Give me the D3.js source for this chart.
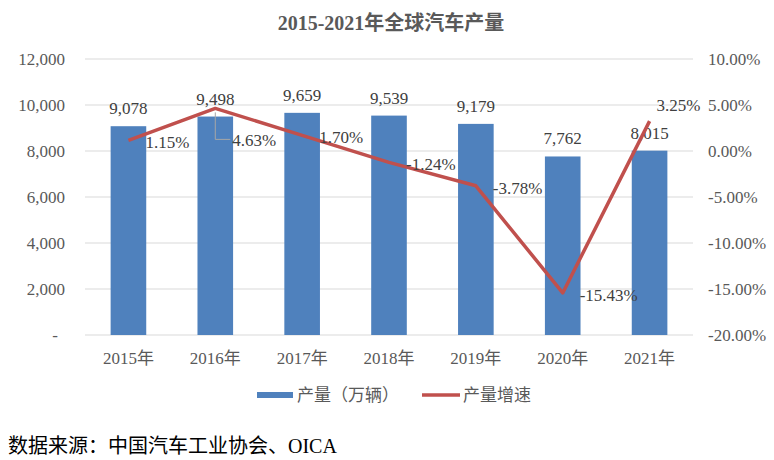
<!DOCTYPE html>
<html lang="zh">
<head>
<meta charset="UTF-8">
<title>2015-2021年全球汽车产量</title>
<style>
  body { margin: 0; background: #fff; }
  svg text { font-family: "Liberation Serif", "Times New Roman", "Noto Sans CJK SC", serif; }
</style>
</head>
<body>
<svg></svg>
<script src="https://cdn.jsdelivr.net/npm/d3@7/dist/d3.min.js"></script>
<script>
// 数据
var years = ["2015年", "2016年", "2017年", "2018年", "2019年", "2020年", "2021年"];
var output = [9078, 9498, 9659, 9539, 9179, 7762, 8015];          // 产量（万辆）
var growth = [1.15, 4.63, 1.70, -1.24, -3.78, -15.43, 3.25];      // 产量增速 %
var leftTicks = [0, 2000, 4000, 6000, 8000, 10000, 12000];
var rightTicks = [-20, -15, -10, -5, 0, 5, 10];

var width = 774, height = 460;
var plotL = 85, plotR = 693, plotT = 59, plotB = 335;

var svg = d3.select("svg").attr("width", width).attr("height", height);

var x = d3.scaleBand().domain(years).range([plotL, plotR]).padding(0);
var yL = d3.scaleLinear().domain([0, 12000]).range([plotB, plotT]);
var yR = d3.scaleLinear().domain([-20, 10]).range([plotB, plotT]);

// 用普通连字符做负号
var locale = d3.formatLocale({ decimal: ".", thousands: ",", grouping: [3], currency: ["", ""], minus: "-" });
var fmt = locale.format(",");
var pct = d => locale.format(".2f")(d) + "%";

// 标题
svg.append("text")
  .attr("x", 391).attr("y", 30)
  .attr("text-anchor", "middle")
  .attr("font-size", "20px").attr("font-weight", "bold")
  .attr("fill", "#595959")
  .text("2015-2021年全球汽车产量");

// 网格线
svg.append("g").selectAll("line")
  .data(leftTicks)
  .join("line")
  .attr("x1", plotL).attr("x2", plotR)
  .attr("y1", d => yL(d)).attr("y2", d => yL(d))
  .attr("stroke", "#d9d9d9").attr("stroke-width", 1);

// 左轴
var axL = svg.append("g")
  .attr("transform", `translate(${plotL - 20},0)`)
  .call(d3.axisLeft(yL).tickValues(leftTicks).tickSize(0).tickPadding(0)
    .tickFormat(d => d === 0 ? "-" : fmt(d)));
axL.select(".domain").remove();
axL.selectAll("text")
  .attr("font-size", "17px").attr("fill", "#595959")
  .attr("font-family", "Liberation Serif, serif")
  .attr("dx", d => d === 0 ? -7 : 0);

// 右轴
var axR = svg.append("g")
  .attr("transform", `translate(${plotR + 15},0)`)
  .call(d3.axisRight(yR).tickValues(rightTicks).tickSize(0).tickPadding(0)
    .tickFormat(pct));
axR.select(".domain").remove();
axR.selectAll("text")
  .attr("font-size", "17px").attr("fill", "#595959")
  .attr("font-family", "Liberation Serif, serif");

// 柱子
var barW = x.bandwidth() * 0.41;
svg.append("g").selectAll("rect")
  .data(output)
  .join("rect")
  .attr("x", (d, i) => x(years[i]) + x.bandwidth() / 2 - barW / 2)
  .attr("y", d => yL(d))
  .attr("width", barW)
  .attr("height", d => plotB - yL(d))
  .attr("fill", "#4f81bd");

// 柱子标签
svg.append("g").selectAll("text")
  .data(output)
  .join("text")
  .attr("x", (d, i) => x(years[i]) + x.bandwidth() / 2)
  .attr("y", d => yL(d) - 12)
  .attr("text-anchor", "middle")
  .attr("font-size", "17px").attr("fill", "#404040")
  .text(d => fmt(d));

// X 轴
var axX = svg.append("g")
  .attr("transform", `translate(0,${plotB})`)
  .call(d3.axisBottom(x).tickSize(0).tickPadding(0));
axX.select(".domain").remove();
axX.selectAll("text")
  .attr("font-size", "17px").attr("fill", "#595959")
  .attr("font-family", "Liberation Serif, Noto Sans CJK SC, serif")
  .attr("dy", "29px");

// 增速折线
var cx = (d, i) => x(years[i]) + x.bandwidth() / 2;
var line = d3.line().x(cx).y(d => yR(d));
svg.append("path")
  .datum(growth)
  .attr("fill", "none")
  .attr("stroke", "#c0504d")
  .attr("stroke-width", 3.5)
  .attr("stroke-linejoin", "round")
  .attr("d", line);

// 增速标签（2016 下移带引线，2021 放在上方）
var labelOffset = { "2016年": [17, 38], "2021年": [7, -10] };
var off = i => labelOffset[years[i]] || [17, 8];

var lx = cx(growth[1], 1), ly = yR(growth[1]);
svg.append("path")
  .attr("d", `M${lx},${ly + 4}V${ly + off(1)[1] - 7}H${lx + off(1)[0] - 2}`)
  .attr("fill", "none").attr("stroke", "#a6a6a6").attr("stroke-width", 1);

svg.append("g").selectAll("text")
  .data(growth)
  .join("text")
  .attr("x", (d, i) => cx(d, i) + off(i)[0])
  .attr("y", (d, i) => yR(d) + off(i)[1])
  .attr("font-size", "17px").attr("fill", "#404040")
  .text(pct);

// 图例
var legend = svg.append("g");
legend.append("rect")
  .attr("x", 257).attr("y", 392).attr("width", 36).attr("height", 6)
  .attr("fill", "#4f81bd");
legend.append("text")
  .attr("x", 297).attr("y", 401)
  .attr("font-size", "17px").attr("fill", "#595959")
  .style("font-family", "Noto Sans CJK SC, sans-serif")
  .text("产量（万辆）");
legend.append("line")
  .attr("x1", 422).attr("x2", 460).attr("y1", 395).attr("y2", 395)
  .attr("stroke", "#c0504d").attr("stroke-width", 3.5);
legend.append("text")
  .attr("x", 463).attr("y", 401)
  .attr("font-size", "17px").attr("fill", "#595959")
  .style("font-family", "Noto Sans CJK SC, sans-serif")
  .text("产量增速");

// 数据来源
svg.append("text")
  .attr("x", 8).attr("y", 453)
  .attr("font-size", "20px").attr("fill", "#000")
  .text("数据来源：中国汽车工业协会、OICA");
</script>
</body>
</html>
